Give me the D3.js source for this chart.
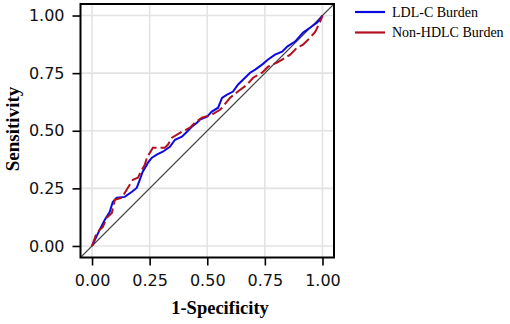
<!DOCTYPE html>
<html><head><meta charset="utf-8">
<script src="https://cdn.jsdelivr.net/npm/d3@7"></script>
<style>body{margin:0;background:#fff}svg{display:block}</style>
</head><body>
<svg id="c" width="510" height="324"></svg>
<script>
const ticks = [0, 0.25, 0.5, 0.75, 1];
const tickLabels = ["0.00", "0.25", "0.50", "0.75", "1.00"];
const seriesNames = ["LDL-C Burden", "Non-HDLC Burden"];
const ldlFpr = [0,0.012,0.033,0.055,0.077,0.090,0.107,0.142,0.173,0.194,0.207,0.220,0.238,0.242,0.260,0.281,0.307,0.338,0.360,0.390,0.412,0.433,0.455,0.468,0.499,0.520,0.547,0.564,0.586,0.612,0.633,0.664,0.686,0.708,0.738,0.764,0.794,0.825,0.847,0.881,0.916,0.947,0.977,1];
const ldlTpr = [0,0.026,0.070,0.113,0.148,0.191,0.209,0.213,0.235,0.252,0.287,0.322,0.352,0.361,0.383,0.396,0.409,0.430,0.461,0.474,0.496,0.517,0.535,0.548,0.561,0.583,0.600,0.643,0.657,0.670,0.700,0.730,0.752,0.765,0.787,0.809,0.830,0.843,0.865,0.887,0.926,0.948,0.970,1];
const nonFpr = [0,0.020,0.047,0.064,0.086,0.099,0.129,0.155,0.177,0.199,0.216,0.229,0.238,0.264,0.316,0.329,0.347,0.390,0.425,0.447,0.477,0.520,0.555,0.564,0.599,0.633,0.673,0.699,0.738,0.764,0.803,0.825,0.860,0.890,0.916,0.947,0.969,0.990,1];
const nonTpr = [0,0.057,0.083,0.122,0.143,0.200,0.209,0.252,0.287,0.296,0.330,0.352,0.383,0.426,0.426,0.439,0.470,0.496,0.513,0.535,0.557,0.570,0.591,0.600,0.643,0.670,0.700,0.730,0.752,0.778,0.796,0.809,0.830,0.861,0.874,0.904,0.930,0.974,1];
const colors = ["#0a0ae0", "#b01020"];

const svg = d3.select("#c");
const x = d3.scaleLinear().domain([-0.05, 1.05]).range([80.5, 334]);
const y = d3.scaleLinear().domain([-0.05, 1.05]).range([257.5, 4]);

// grid
const g = svg.append("g");
g.selectAll(".vg").data(ticks).join("line")
  .attr("x1", d => x(d)).attr("x2", d => x(d)).attr("y1", y(-0.05)).attr("y2", y(1.05))
  .attr("stroke", "#e3e3e3").attr("stroke-width", 1.6);
g.selectAll(".hg").data(ticks).join("line")
  .attr("y1", d => y(d)).attr("y2", d => y(d)).attr("x1", x(-0.05)).attr("x2", x(1.05))
  .attr("stroke", "#e3e3e3").attr("stroke-width", 1.6);

// diagonal
svg.append("line")
  .attr("x1", x(-0.05)).attr("y1", y(-0.05)).attr("x2", x(1.05)).attr("y2", y(1.05))
  .attr("stroke", "#444").attr("stroke-width", 1.1);

const line = d3.line().x(d => x(d[0])).y(d => y(d[1]));
svg.append("path").datum(ldlFpr.map((f, i) => [f, ldlTpr[i]]))
  .attr("d", line).attr("fill", "none").attr("stroke", colors[0]).attr("stroke-width", 2);
svg.append("path").datum(nonFpr.map((f, i) => [f, nonTpr[i]]))
  .attr("d", line).attr("fill", "none").attr("stroke", colors[1]).attr("stroke-width", 2)
  .attr("stroke-dasharray", "12,4");

// panel border
svg.append("rect").attr("x", x(-0.05)).attr("y", y(1.05))
  .attr("width", x(1.05) - x(-0.05)).attr("height", y(-0.05) - y(1.05))
  .attr("fill", "none").attr("stroke", "#000").attr("stroke-width", 2);

// axes
const xAxis = d3.axisBottom(x).tickValues(ticks).tickFormat((d, i) => tickLabels[i]).tickSize(8).tickPadding(9);
const yAxis = d3.axisLeft(y).tickValues(ticks).tickFormat((d, i) => tickLabels[i]).tickSize(8).tickPadding(8);
const xa = svg.append("g").attr("transform", `translate(0,${y(-0.05)})`).call(xAxis);
const ya = svg.append("g").attr("transform", `translate(${x(-0.05)},0)`).call(yAxis);
[xa, ya].forEach(a => {
  a.select(".domain").remove();
  a.selectAll(".tick line").attr("stroke", "#000").attr("stroke-width", 1.6);
  a.selectAll(".tick text").attr("fill", "#111").style("font-family", "DejaVu Sans").style("font-size", "16px");
});

// axis titles
svg.append("text").attr("x", 220).attr("y", 314).attr("text-anchor", "middle")
  .style("font-family", "Liberation Serif").style("font-weight", "bold").style("font-size", "18.5px")
  .text("1-Specificity");
svg.append("text").attr("transform", "translate(19,129) rotate(-90)").attr("text-anchor", "middle")
  .style("font-family", "Liberation Serif").style("font-weight", "bold").style("font-size", "19px")
  .text("Sensitivity");

// legend
const lg = svg.append("g");
seriesNames.forEach((n, i) => {
  const yy = 12 + i * 20.5;
  lg.append("line").attr("x1", 355).attr("x2", 385).attr("y1", yy).attr("y2", yy)
    .attr("stroke", colors[i]).attr("stroke-width", 2.2);
  lg.append("text").attr("x", 392).attr("y", yy + 4.5)
    .style("font-family", "Liberation Serif").style("font-size", "14px").text(n);
});
</script>
</body></html>
